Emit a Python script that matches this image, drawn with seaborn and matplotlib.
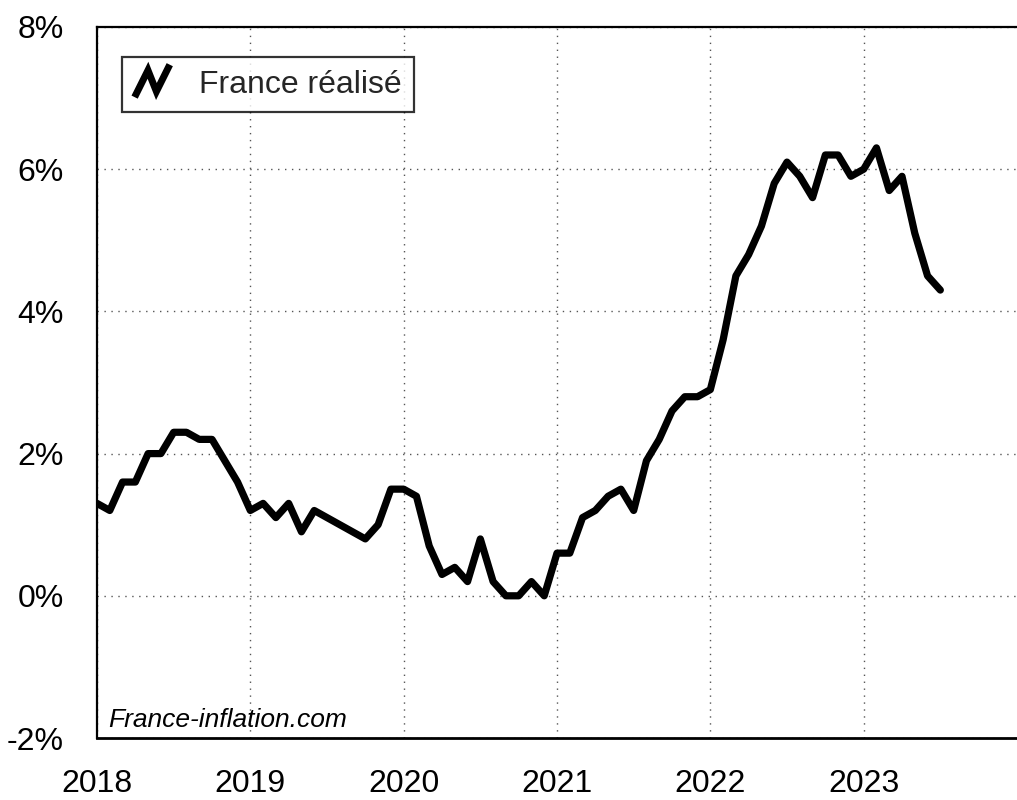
import numpy as np
import pandas as pd
import matplotlib
matplotlib.use("Agg")
import matplotlib.pyplot as plt
import seaborn as sns
from matplotlib.legend_handler import HandlerBase
from matplotlib.lines import Line2D

# Monthly consumer price inflation, France, year over year (%)
inflation_2018 = [1.3, 1.2, 1.6, 1.6, 2.0, 2.0, 2.3, 2.3, 2.2, 2.2, 1.9, 1.6]
inflation_2019 = [1.2, 1.3, 1.1, 1.3, 0.9, 1.2, 1.1, 1.0, 0.9, 0.8, 1.0, 1.5]
inflation_2020 = [1.5, 1.4, 0.7, 0.3, 0.4, 0.2, 0.8, 0.2, 0.0, 0.0, 0.2, 0.0]
inflation_2021 = [0.6, 0.6, 1.1, 1.2, 1.4, 1.5, 1.2, 1.9, 2.2, 2.6, 2.8, 2.8]
inflation_2022 = [2.9, 3.6, 4.5, 4.8, 5.2, 5.8, 6.1, 5.9, 5.6, 6.2, 6.2, 5.9]
inflation_2023 = [6.0, 6.3, 5.7, 5.9, 5.1, 4.5, 4.3]

years = [2018, 2019, 2020, 2021, 2022, 2023]
year_labels = ["2018", "2019", "2020", "2021", "2022", "2023"]
y_ticks = [-2, 0, 2, 4, 6, 8]
y_labels = ["-2%", "0%", "2%", "4%", "6%", "8%"]
series_name = "France réalisé"
source_text = "France-inflation.com"

values = (inflation_2018 + inflation_2019 + inflation_2020
          + inflation_2021 + inflation_2022 + inflation_2023)
months = pd.date_range("2018-01-01", periods=len(values), freq="MS")
df = pd.DataFrame({
    "t": months.year + (months.month - 1) / 12.0,
    "rate": values,
})


class ZigzagHandler(HandlerBase):
    """Legend key drawn as a bold zigzag stroke."""

    def create_artists(self, legend, orig_handle, xdescent, ydescent,
                       width, height, fontsize, trans):
        xs = np.array([0.0, 0.38, 0.62, 1.0]) * width - xdescent
        ys = np.array([-0.2, 1.0, 0.05, 1.25]) * height - ydescent
        line = Line2D(xs, ys, color="black", lw=5,
                      solid_joinstyle="miter", solid_capstyle="butt")
        line.set_transform(trans)
        return [line]


sns.set_style("white")
plt.rcParams["font.family"] = ["Liberation Sans", "DejaVu Sans"]

fig = plt.figure(figsize=(10.17, 8.0), dpi=100)
ax = fig.add_axes([97 / 1017, 1 - 738 / 800, 1 - 97 / 1017, (738 - 27) / 800])

sns.lineplot(data=df, x="t", y="rate", color="black", lw=5.2,
             ax=ax, legend=False, solid_joinstyle="round")

ax.set_xlim(2018, 2024)
ax.set_ylim(-2, 8)
ax.set_xticks(years)
ax.set_xticklabels(year_labels)
ax.set_yticks(y_ticks)
ax.set_yticklabels(y_labels)
ax.set_xlabel("")
ax.set_ylabel("")
ax.tick_params(axis="both", length=0, labelsize=23, colors="black")
ax.tick_params(axis="x", pad=22)
ax.tick_params(axis="y", pad=24)

ax.grid(True, linestyle=(0, (1, 4)), color="#555555", lw=1.0)

for side in ["left", "bottom", "top"]:
    ax.spines[side].set_visible(True)
    ax.spines[side].set_color("black")
ax.spines["left"].set_linewidth(1.6)
ax.spines["bottom"].set_linewidth(2.0)
ax.spines["top"].set_linewidth(1.6)
ax.spines["right"].set_visible(False)

proxy = Line2D([], [], color="black")
leg = ax.legend([proxy], [series_name], handler_map={proxy: ZigzagHandler()},
                loc="upper left", bbox_to_anchor=(0.027, 0.958),
                frameon=True, fancybox=False, fontsize=23,
                handlelength=1.1, handletextpad=0.9, borderpad=0.4,
                borderaxespad=0.0)
leg.get_frame().set_edgecolor("black")
leg.get_frame().set_linewidth(1.6)

ax.text(0.012, 0.008, source_text, transform=ax.transAxes,
        fontsize=19, fontstyle="italic", color="black",
        ha="left", va="bottom")

fig.savefig("out.png", dpi=100, facecolor="white")
